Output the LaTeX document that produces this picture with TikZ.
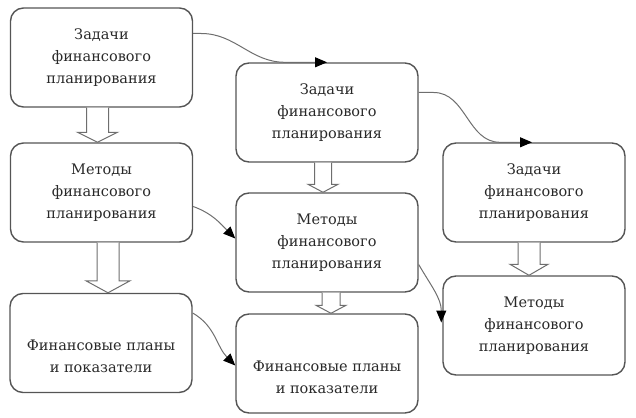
\documentclass[tikz,border=0pt]{standalone}
\usepackage{fontspec}
\setmainfont{DejaVu Serif}
\usetikzlibrary{arrows.meta, positioning, calc}
\definecolor{boxgray}{RGB}{85, 85, 85}
\definecolor{linegray}{RGB}{110, 110, 110}
\definecolor{textgray}{RGB}{40, 40, 40}

% hollow block arrow: from, to, xshift, half shaft, half head, head length
\newcommand{\blockarrow}[6]{%
  \draw[blockarr] let \p1=([xshift=#3pt]#1.south), \p2=(#2.north) in
    (\x1-#4pt,\y1) -- (\x1-#4pt,\y2+#6pt) -- (\x1-#5pt,\y2+#6pt) -- (\x1,\y2)
    -- (\x1+#5pt,\y2+#6pt) -- (\x1+#4pt,\y2+#6pt) -- (\x1+#4pt,\y1);
}

\begin{document}
\begin{tikzpicture}[x=1pt, y=-1pt,
  stagebox/.style={draw=boxgray, line width=1.4pt, rounded corners=13pt, minimum width=182pt, minimum height=99pt, align=center, text=textgray, font=\fontsize{14.5}{22}\selectfont, inner sep=0pt},
  blockarr/.style={draw=linegray, fill=white, line width=1pt, line join=miter},
  flow/.style={draw=linegray, line width=1pt, -{Triangle[length=12pt, width=10pt, color=black]}}]
  \useasboundingbox (0,0) rectangle (636,417);

  \node[stagebox] (tasksA) at (101.5,57.5) {Задачи\\финансового\\планирования};
  \node[stagebox] (methodsA) at (101.5,192.5) {Методы\\финансового\\планирования};
  \node[stagebox] (plansA) at (101,343) {\strut\\Финансовые планы\\и показатели};

  \node[stagebox] (tasksB) at (327,112.5) {Задачи\\финансового\\планирования};
  \node[stagebox] (methodsB) at (327,242.5) {Методы\\финансового\\планирования};
  \node[stagebox] (plansB) at (327,363.5) {\strut\\Финансовые планы\\и показатели};

  \node[stagebox] (tasksC) at (534,192.5) {Задачи\\финансового\\планирования};
  \node[stagebox] (methodsC) at (534,325.5) {Методы\\финансового\\планирования};

  % vertical block arrows
  \blockarrow{tasksA}{methodsA}{-4}{11}{20}{10}
  \blockarrow{methodsA}{plansA}{6.5}{11}{22}{12}
  \blockarrow{tasksB}{methodsB}{-4}{8.5}{15}{8}
  \blockarrow{methodsB}{plansB}{4}{9}{15}{8}
  \blockarrow{tasksC}{methodsC}{-5}{11}{19}{11}

  % curved connectors between columns
  \draw[flow] ([yshift=24pt]tasksA.east) -- +(8,0) to[out=0, in=180] ([xshift=-42pt]tasksB.north) -- (tasksB.north);
  \draw[flow] ([yshift=20pt]tasksB.east) -- +(15,0) to[out=0, in=180] ([xshift=-34pt]tasksC.north) -- ([xshift=-2pt]tasksC.north);
  \draw[flow] ([yshift=-14pt]methodsA.east) to[out=-20, in=135] ([yshift=4pt]methodsB.west);
  \draw[flow] ([yshift=30pt]plansA.east) to[out=-30, in=135] ([yshift=-2pt]plansB.west);
  \draw[flow] ([yshift=-22pt]methodsB.east) to[out=-60, in=90] ([xshift=-1pt, yshift=3pt]methodsC.west);
\end{tikzpicture}
\end{document}
